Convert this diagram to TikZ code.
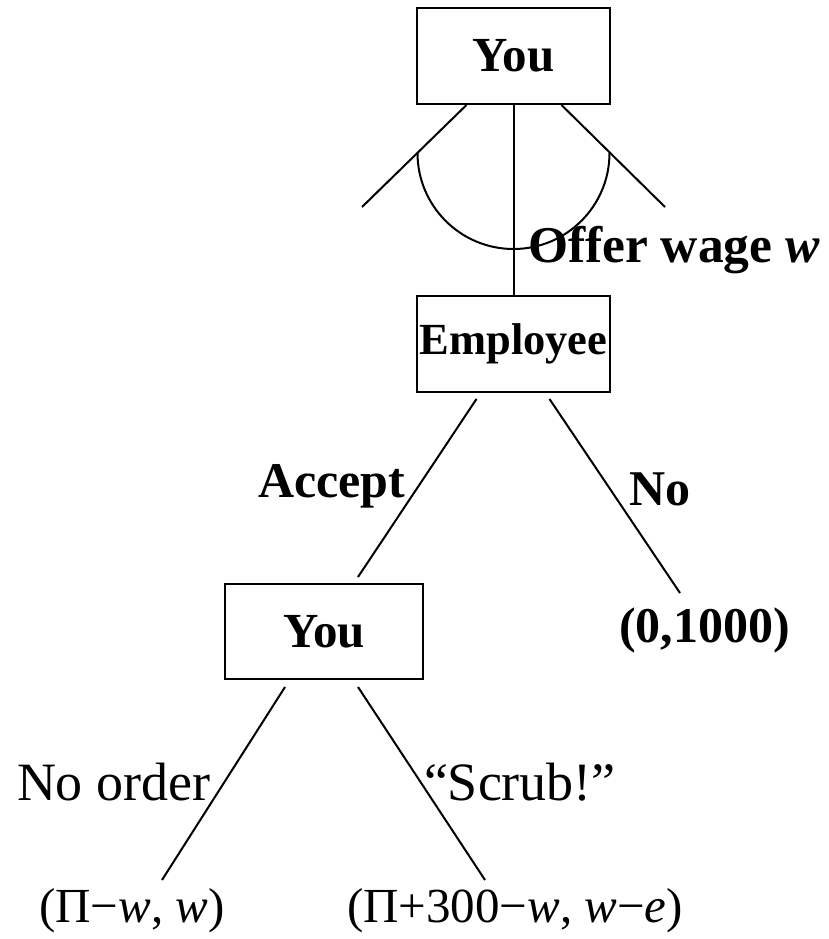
\documentclass[tikz,border=0pt]{standalone}
\usepackage{fontspec}
\setmainfont{Liberation Serif}
\usetikzlibrary{calc}
\begin{document}
\begin{tikzpicture}[x=1pt, y=-1pt, line width=2pt,
  player/.style={draw, rectangle, inner sep=0pt, minimum width=193pt, minimum height=96pt,
                 font=\fontsize{49}{56}\selectfont\bfseries},
  movelbl/.style={anchor=base west, inner sep=0pt, font=\fontsize{50}{60}\selectfont\bfseries},
  orderlbl/.style={anchor=base west, inner sep=0pt, font=\fontsize{54}{60}\selectfont},
  paylbl/.style={anchor=base west, inner sep=0pt, font=\fontsize{49}{60}\selectfont}]
\useasboundingbox (0,0) rectangle (829,939);

% decision nodes
\node[player] (top) at (513.5,56) {You};
\node[player, font=\fontsize{44.5}{52}\selectfont\bfseries] (emp) at (513.5,344) {Employee};
\node[player, minimum width=198pt, minimum height=95pt] (you2) at (324,631.5) {You};

% continuum of wage offers
\coordinate (wl) at (362,207);
\coordinate (wr) at (665,207);
\draw ($(top.south)+(-47,0)$) -- (wl);
\draw ($(top.south)+(48,0)$) -- (wr);
\draw (top.south) -- (emp.north);
\draw ($(top.south)+(-96,48)$) arc[start angle=180, end angle=360, radius=96pt];
\node[movelbl, font=\fontsize{51.5}{60}\selectfont\bfseries] (offer) at (527,262) {Offer wage \textit{w}};

% employee's choice
\coordinate (acc) at (358,577);
\coordinate (rej) at (680,593);
\draw ($(emp.south)+(-37,6)$) -- (acc);
\draw ($(emp.south)+(36,6)$) -- (rej);
\node[movelbl] (accl) at (257,497) {Accept};
\node[movelbl] (nol) at (628,505) {No};
\node[movelbl] (p0) at (618,642) {(0,1000)};

% your order
\coordinate (noord) at (162,880);
\coordinate (scrub) at (485,880);
\draw ($(you2.south)+(-39,7)$) -- (noord);
\draw ($(you2.south)+(34,7)$) -- (scrub);
\node[orderlbl] (nool) at (16,800) {No order};
\node[orderlbl] (scl) at (423,800) {“Scrub!”};
\node[paylbl] (p1) at (38,922) {(Π−\textit{w}, \textit{w})};
\node[paylbl] (p2) at (346,922) {(Π+300−\textit{w}, \textit{w}−\textit{e})};
\end{tikzpicture}
\end{document}
